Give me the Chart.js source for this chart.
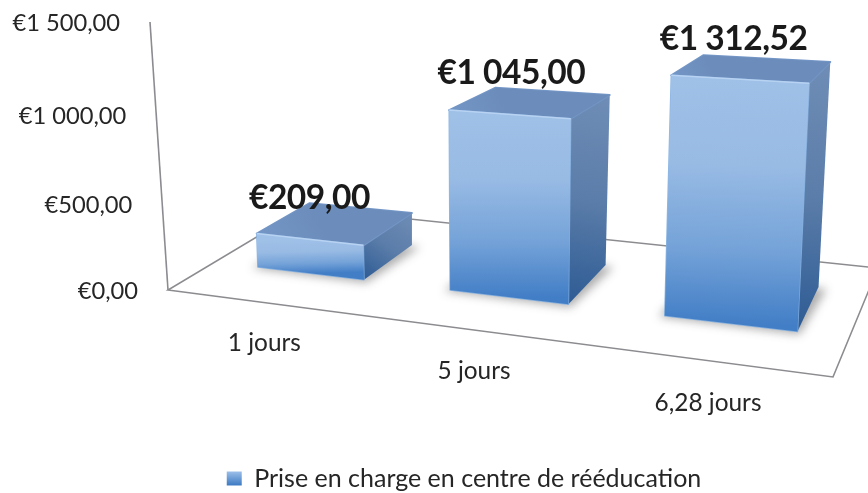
<!DOCTYPE html>
<html>
<head>
<meta charset="utf-8">
<title>Prise en charge en centre de rééducation</title>
<script src="https://cdn.jsdelivr.net/npm/chart.js@4/dist/chart.umd.min.js"></script>
<style>
  html, body { margin: 0; padding: 0; background: #fff; }
  canvas { display: block; }
</style>
</head>
<body>
<canvas id="chart" width="868" height="493"></canvas>
<script>
var categories = ['1 jours', '5 jours', '6,28 jours'];
var seriesName = 'Prise en charge en centre de rééducation';
var seriesValues = [209, 1045, 1312.52];
var tickValues = [0, 500, 1000, 1500];

// screen corners of the perspective planes, [bottom left, bottom right, top left, top right]
var frontPlane = [[218.7, 262.4], [851, 338], [209, 17], [867, 49]];
var backPlane = [[272.3, 230.5], [867.7, 292], [268, 3], [883, 31]];
// floor corners, [front left, front right, back left, back right]
var floorPlane = [[168, 290], [833, 377], [305, 208], [878, 268]];
var wallTop = [150, 22];

var textColor = '#262626';
var lineColor = '#8c8c90';
var fontName = 'Lato, Carlito, Calibri, sans-serif';

function formatEuro(v) {
  var parts = v.toFixed(2).split('.');
  return '€' + parts[0].replace(/\B(?=(\d{3})+$)/g, ' ') + ',' + parts[1];
}

// solves the 8 coefficients that send the unit square to a quad
function makeHomography(quad) {
  var src = [[0, 0], [1, 0], [0, 1], [1, 1]];
  var m = [];
  for (var i = 0; i < 4; i++) {
    var u = src[i][0], v = src[i][1], x = quad[i][0], y = quad[i][1];
    m.push([u, v, 1, 0, 0, 0, -u * x, -v * x, x]);
    m.push([0, 0, 0, u, v, 1, -u * y, -v * y, y]);
  }
  for (var c = 0; c < 8; c++) {
    var best = c;
    for (var r = c + 1; r < 8; r++) {
      if (Math.abs(m[r][c]) > Math.abs(m[best][c])) best = r;
    }
    var tmp = m[c]; m[c] = m[best]; m[best] = tmp;
    for (var r2 = 0; r2 < 8; r2++) {
      if (r2 === c) continue;
      var f = m[r2][c] / m[c][c];
      for (var k = c; k < 9; k++) m[r2][k] -= f * m[c][k];
    }
  }
  var h = m.map(function(row, idx) { return row[8] / row[idx]; });
  return function(u, v) {
    var d = h[6] * u + h[7] * v + 1;
    return [(h[0] * u + h[1] * v + h[2]) / d, (h[3] * u + h[4] * v + h[5]) / d];
  };
}

var toFront = makeHomography(frontPlane);
var toBack = makeHomography(backPlane);
var toFloor = makeHomography(floorPlane);

function polygon(ctx, pts) {
  ctx.beginPath();
  ctx.moveTo(pts[0][0], pts[0][1]);
  for (var i = 1; i < pts.length; i++) ctx.lineTo(pts[i][0], pts[i][1]);
  ctx.closePath();
}

function vGradient(ctx, from, to, stops) {
  var g = ctx.createLinearGradient(from[0], from[1], to[0], to[1]);
  stops.forEach(function(s) { g.addColorStop(s[0], s[1]); });
  return g;
}

var perspectivePlugin = {
  id: 'perspective',
  beforeDatasetsDraw: function(chart) {
    var ctx = chart.ctx;
    // floor outline, then the left wall edge
    ctx.save();
    ctx.strokeStyle = lineColor;
    ctx.lineWidth = 1.6;
    polygon(ctx, [floorPlane[0], floorPlane[1], floorPlane[3], floorPlane[2]]);
    ctx.stroke();
    ctx.beginPath();
    ctx.moveTo(wallTop[0], wallTop[1]);
    ctx.lineTo(floorPlane[0][0], floorPlane[0][1]);
    ctx.stroke();
    ctx.restore();
  },
  afterDatasetsDraw: function(chart) {
    var ctx = chart.ctx;
    var area = chart.chartArea;
    var yScale = chart.scales.y;
    var xScale = chart.scales.x;
    var bars = chart.getDatasetMeta(0).data;

    function normX(px) { return (px - area.left) / area.width; }
    function normY(py) { return (area.bottom - py) / area.height; }

    // value axis labels follow the left wall
    ctx.save();
    ctx.font = '23.7px ' + fontName;
    ctx.fillStyle = textColor;
    ctx.textAlign = 'right';
    ctx.textBaseline = 'middle';
    tickValues.forEach(function(v) {
      var t = normY(yScale.getPixelForValue(v));
      var f = t / (1 + 0.07 * (1 - t));
      var x = floorPlane[0][0] + (wallTop[0] - floorPlane[0][0]) * f;
      var y = floorPlane[0][1] + (wallTop[1] - floorPlane[0][1]) * f;
      ctx.fillText(formatEuro(v), x - 30, y + 1);
    });
    // category labels sit under the front floor edge
    ctx.font = '24.4px ' + fontName;
    ctx.textAlign = 'center';
    categories.forEach(function(name, i) {
      var p = toFloor(normX(xScale.getPixelForValue(i)), 0);
      ctx.fillText(name, p[0] + i, p[1] + 41 + (i === 2 ? 2 : 0));
    });
    ctx.restore();

    bars.forEach(function(bar) {
      var x0 = normX(bar.x - bar.width / 2);
      var x1 = normX(bar.x + bar.width / 2);
      var t = normY(bar.y);
      var fbl = toFront(x0, 0), fbr = toFront(x1, 0), ftl = toFront(x0, t), ftr = toFront(x1, t);
      var bbl = toBack(x0, 0), bbr = toBack(x1, 0), btl = toBack(x0, t), btr = toBack(x1, t);

      // soft shadow on the floor
      ctx.save();
      ctx.filter = 'blur(5px)';
      ctx.fillStyle = 'rgba(40,40,40,0.38)';
      polygon(ctx, [[fbl[0] - 6, fbl[1] + 1], [fbr[0] + 2, fbr[1] + 3], [bbr[0] + 8, bbr[1] + 2], [bbl[0], bbl[1]]]);
      ctx.fill();
      ctx.restore();

      // right side
      ctx.save();
      ctx.lineJoin = 'round';
      ctx.fillStyle = vGradient(ctx, [btr[0], btr[1]], [fbr[0], fbr[1]], [[0, '#6f8db6'], [0.5, '#5b7da9'], [1, '#2d5b94']]);
      polygon(ctx, [ftr, btr, bbr, fbr]);
      ctx.fill();
      // top
      ctx.fillStyle = vGradient(ctx, [btl[0], btl[1]], [ftl[0], ftl[1]], [[0, '#6c8dbb'], [1, '#7396c6']]);
      ctx.strokeStyle = '#7396c6';
      ctx.lineWidth = 2;
      polygon(ctx, [ftl, ftr, btr, btl]);
      ctx.stroke();
      ctx.fill();
      // front
      var midTop = [(ftl[0] + ftr[0]) / 2, (ftl[1] + ftr[1]) / 2];
      var midBot = [(fbl[0] + fbr[0]) / 2, (fbl[1] + fbr[1]) / 2];
      ctx.fillStyle = vGradient(ctx, midTop, midBot, [[0, '#9fc0e7'], [0.35, '#98bbe4'], [0.7, '#74a2d8'], [1, '#427ec6']]);
      ctx.strokeStyle = 'rgba(130,175,225,0.9)';
      ctx.lineWidth = 1.5;
      polygon(ctx, [ftl, ftr, fbr, fbl]);
      ctx.stroke();
      ctx.fill();
      // lighter bevel on the upper edge of the front
      ctx.strokeStyle = 'rgba(190,215,245,0.85)';
      ctx.lineWidth = 1.5;
      ctx.beginPath();
      ctx.moveTo(ftl[0], ftl[1]);
      ctx.lineTo(ftr[0], ftr[1]);
      ctx.stroke();
      ctx.restore();
    });

    // value labels above the top faces, the short bar needs a small nudge
    var labelNudge = [[-6, 4], [0, 0], [0, 0]];
    ctx.save();
    ctx.font = 'bold 33.5px ' + fontName;
    ctx.letterSpacing = '-0.5px';
    ctx.fillStyle = '#1a1a1a';
    ctx.textAlign = 'center';
    ctx.textBaseline = 'middle';
    bars.forEach(function(bar, i) {
      var x0 = normX(bar.x - bar.width / 2);
      var x1 = normX(bar.x + bar.width / 2);
      var t = normY(bar.y);
      var corners = [toFront(x0, t), toFront(x1, t), toBack(x0, t), toBack(x1, t)];
      var cx = 0, cy = 0;
      corners.forEach(function(p) { cx += p[0] / 4; cy += p[1] / 4; });
      ctx.fillText(formatEuro(seriesValues[i]), cx - 20 + labelNudge[i][0], cy - 30 + labelNudge[i][1]);
    });
    ctx.restore();
  }
};

var ctx = document.getElementById('chart').getContext('2d');
var swatch = ctx.createLinearGradient(0, 470, 0, 485);
swatch.addColorStop(0, '#a6c6ec');
swatch.addColorStop(1, '#3f7cc4');

new Chart(ctx, {
  type: 'bar',
  data: {
    labels: categories,
    datasets: [{
      label: seriesName,
      data: seriesValues,
      backgroundColor: 'rgba(0,0,0,0)',
      barPercentage: 0.565,
      categoryPercentage: 1
    }]
  },
  plugins: [perspectivePlugin],
  options: {
    responsive: false,
    animation: false,
    layout: { padding: { left: 60, bottom: -8 } },
    scales: {
      x: { display: false },
      y: { display: false, min: 0, max: 1500, ticks: { stepSize: 500 } }
    },
    plugins: {
      tooltip: { enabled: false },
      legend: {
        position: 'bottom',
        labels: {
          boxWidth: 15,
          boxHeight: 14,
          padding: 0,
          color: textColor,
          font: { family: fontName, size: 25 },
          generateLabels: function() {
            return [{ text: seriesName, fillStyle: swatch, strokeStyle: '#4f86c6', lineWidth: 0, fontColor: textColor, datasetIndex: 0 }];
          }
        }
      }
    }
  }
});
</script>
</body>
</html>
